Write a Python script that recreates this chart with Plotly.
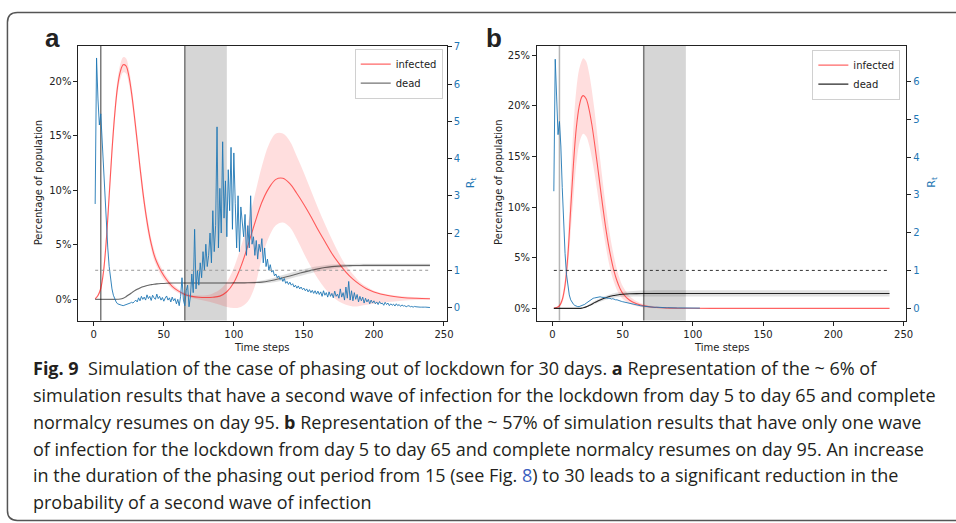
import plotly.graph_objects as go

W, H = 956, 523

# ---------------- data: panel a ----------------
A_DAYS = [1, 3, 5, 7, 9, 11, 13, 15, 17, 19, 21, 23, 25, 27, 29, 31, 33, 35, 37, 39, 41, 43, 45,
          48, 52, 56, 60,
          65, 70, 75, 80, 85, 90, 95, 100, 105, 110, 115, 120, 125, 130, 135, 140, 145, 150, 155,
          160, 165, 170, 175, 180, 185, 190, 195, 200,
          210, 220, 230, 240]
A_INF = [0.05, 0.35, 1.0, 2.6, 5.5, 9.5, 13.6, 17.0, 19.5, 20.9, 21.5, 21.4, 20.5, 18.9, 16.8, 14.5, 12.1, 9.9, 8.0, 6.4, 5.1, 4.1, 3.4,
         2.6, 1.8, 1.2, 0.8,
         0.45, 0.28, 0.2, 0.18, 0.2, 0.3, 0.7, 1.55, 3.0, 4.9, 7.0, 8.9, 10.2, 11.0, 11.1, 10.6, 9.7, 8.7, 7.6,
         6.4, 5.3, 4.2, 3.3, 2.5, 1.85, 1.35, 0.95, 0.68,
         0.35, 0.18, 0.1, 0.06]
A_INF_HI = [0.1, 0.5, 1.3, 3.1, 6.3, 10.5, 14.5, 17.8, 20.2, 21.6, 22.2, 22.1, 21.2, 19.6, 17.5, 15.2, 12.8, 10.6, 8.6, 7.0, 5.6, 4.6, 3.8,
            3.0, 2.1, 1.45, 1.0,
            0.6, 0.4, 0.35, 0.38, 0.55, 0.9, 1.6, 2.9, 4.8, 7.0, 9.6, 12.2, 14.2, 15.2, 15.2, 14.5, 13.1, 11.6, 10.0,
            8.4, 6.9, 5.5, 4.2, 3.1, 2.3, 1.6, 1.15, 0.8,
            0.45, 0.28, 0.2, 0.15]
A_INF_LO = [0.0, 0.22, 0.75, 2.1, 4.7, 8.5, 12.7, 16.2, 18.8, 20.2, 20.8, 20.7, 19.8, 18.2, 16.1, 13.8, 11.4, 9.2, 7.4, 5.8, 4.6, 3.6, 3.0,
            2.2, 1.5, 0.95, 0.6,
            0.3, 0.12, 0.0, -0.15, -0.3, -0.5, -0.7, -0.8, -0.7, -0.2, 1.2, 3.8, 5.7, 6.8, 7.05, 6.6, 5.5, 4.2, 3.0,
            1.9, 1.0, 0.3, -0.2, -0.5, -0.65, -0.6, -0.5, -0.4,
            -0.25, -0.12, -0.06, -0.03]
A_DEAD = [0.0, 0.0, 0.0, 0.0, 0.0, 0.0, 0.0, 0.0, 0.01, 0.03, 0.1, 0.25, 0.42, 0.6, 0.78, 0.93, 1.05, 1.15, 1.23, 1.3, 1.35, 1.39, 1.42,
          1.45, 1.48, 1.5, 1.5,
          1.5, 1.5, 1.5, 1.5, 1.5, 1.5, 1.5, 1.51, 1.51, 1.52, 1.54, 1.58, 1.68, 1.82, 1.98, 2.15, 2.33, 2.5, 2.66,
          2.8, 2.92, 3.0, 3.05, 3.08, 3.1, 3.11, 3.12, 3.12,
          3.12, 3.12, 3.12, 3.12]
A_DEAD_HI = [0.0, 0.0, 0.0, 0.0, 0.0, 0.0, 0.0, 0.01, 0.03, 0.06, 0.15, 0.32, 0.5, 0.68, 0.86, 1.0, 1.12, 1.21, 1.29, 1.35, 1.4, 1.44, 1.47,
             1.5, 1.53, 1.55, 1.55,
             1.55, 1.55, 1.55, 1.55, 1.55, 1.55, 1.56, 1.57, 1.58, 1.6, 1.64, 1.72, 1.86, 2.04, 2.23, 2.42, 2.6, 2.77, 2.92,
             3.04, 3.13, 3.19, 3.22, 3.24, 3.25, 3.26, 3.26, 3.26,
             3.26, 3.26, 3.26, 3.26]
A_DEAD_LO = [0.0, 0.0, 0.0, 0.0, 0.0, 0.0, 0.0, 0.0, 0.0, 0.0, 0.05, 0.18, 0.34, 0.52, 0.7, 0.86, 0.98, 1.09, 1.17, 1.24, 1.3, 1.34, 1.37,
             1.4, 1.43, 1.45, 1.45,
             1.45, 1.45, 1.45, 1.45, 1.45, 1.45, 1.45, 1.45, 1.45, 1.45, 1.45, 1.46, 1.5, 1.6, 1.74, 1.9, 2.07, 2.24, 2.4,
             2.55, 2.68, 2.8, 2.88, 2.94, 2.97, 2.98, 2.98, 2.98,
             2.98, 2.98, 2.98, 2.98]
RT_A = [2.78, 6.7, 5.6, 4.9, 5.2, 4.4, 3.6, 2.9, 2.2, 1.6,
        1.1, 0.75, 0.5, 0.33, 0.22, 0.15, 0.1, 0.08, 0.07, 0.06,
        0.05, 0.06, 0.08, 0.1, 0.09, 0.12, 0.14, 0.12, 0.16, 0.2,
        0.15, 0.26, 0.18, 0.3, 0.22, 0.28, 0.2, 0.34, 0.24, 0.3,
        0.19, 0.33, 0.26, 0.22, 0.36, 0.24, 0.3, 0.2, 0.27, 0.17,
        0.25, 0.31, 0.2, 0.26, 0.15, 0.28, 0.18, 0.24, 0.1, 0.22,
        0.05, 0.3, 0.8, 0.2, 0.05, 0.45, 0.6, 0.02, 0.3, 0.9,
        0.4, 2.1, 0.5, 1.0, 0.6, 1.2, 0.8, 1.5, 1.0, 1.7,
        1.1, 1.4, 2.0, 1.2, 2.6, 1.5, 2.2, 4.85, 1.6, 3.2,
        2.0, 4.45, 2.4, 3.4, 1.9, 3.7, 2.6, 4.3, 2.1, 4.15,
        2.8, 1.6, 3.0, 1.5, 2.7, 2.3, 1.9, 2.5, 1.4, 2.2,
        1.6, 3.0, 1.7, 1.9, 1.4, 1.8, 1.3, 1.7, 1.5, 1.85,
        1.2, 1.6, 1.1, 1.3, 1.0, 1.15, 0.95, 1.0, 0.85, 0.9,
        0.8, 0.85, 0.75, 0.8, 0.7, 0.78, 0.65, 0.7, 0.62, 0.68,
        0.6, 0.64, 0.55, 0.6, 0.52, 0.58, 0.5, 0.55, 0.48, 0.52,
        0.45, 0.5, 0.42, 0.48, 0.4, 0.46, 0.38, 0.45, 0.36, 0.44,
        0.35, 0.42, 0.3, 0.45, 0.33, 0.4, 0.28, 0.42, 0.3, 0.38,
        0.26, 0.44, 0.3, 0.36, 0.25, 0.5, 0.28, 0.4, 0.2, 0.55,
        0.25, 0.7, 0.2, 0.45, 0.18, 0.4, 0.22, 0.35, 0.15, 0.3,
        0.18, 0.28, 0.12, 0.25, 0.15, 0.22, 0.1, 0.2, 0.12, 0.18,
        0.1, 0.15, 0.08, 0.16, 0.1, 0.12, 0.06, 0.14, 0.08, 0.12,
        0.05, 0.1, 0.06, 0.09, 0.04, 0.1, 0.05, 0.08, 0.03, 0.07,
        0.04, 0.05, 0.02, 0.04, 0.05, 0.02, 0.03, 0.01, 0.03, 0.02,
        0.01, 0.02, 0.01, 0.01, 0.02, 0.01, 0.01, 0.0, 0.01, 0.0]

# ---------------- data: panel b ----------------
B_DAYS = [1, 3, 5, 7, 9, 11, 13, 15, 17, 19, 21,
          22, 24, 26, 28, 30, 32, 34, 36, 38, 40, 42, 44, 46, 48, 50,
          55, 60, 65, 70, 80, 90, 100,
          120, 140, 160, 180, 200, 220, 240]
B_INF = [0.02, 0.08, 0.25, 0.85, 2.3, 5.2, 9.8, 14.3, 17.8, 19.9, 20.9,
         21.0, 20.7, 19.7, 18.2, 16.3, 14.2, 12.0, 9.9, 7.9, 6.2, 4.8, 3.6, 2.7, 2.0, 1.5,
         0.8, 0.45, 0.25, 0.14, 0.05, 0.02, 0.01,
         0.0, 0.0, 0.0, 0.0, 0.0, 0.0, 0.0]
B_INF_HI = [0.05, 0.15, 0.4, 1.2, 3.0, 6.8, 12.6, 18.0, 21.6, 23.6, 24.5,
            24.7, 24.4, 23.3, 21.6, 19.5, 17.1, 14.7, 12.3, 10.1, 8.1, 6.4, 5.0, 3.8, 2.9, 2.2,
            1.2, 0.7, 0.4, 0.25, 0.1, 0.05, 0.03,
            0.02, 0.02, 0.02, 0.02, 0.02, 0.02, 0.02]
B_INF_LO = [0.0, 0.03, 0.15, 0.55, 1.7, 3.9, 7.5, 11.0, 14.2, 16.2, 17.1,
            17.25, 17.0, 16.2, 14.9, 13.3, 11.5, 9.6, 7.8, 6.1, 4.6, 3.4, 2.5, 1.8, 1.3, 0.95,
            0.45, 0.22, 0.1, 0.05, 0.01, 0.0, 0.0,
            0.0, 0.0, 0.0, 0.0, 0.0, 0.0, 0.0]
B_DEAD = [0.0, 0.0, 0.0, 0.0, 0.0, 0.0, 0.0, 0.0, 0.0, 0.0, 0.03,
          0.06, 0.15, 0.28, 0.42, 0.57, 0.7, 0.83, 0.95, 1.05, 1.14, 1.22, 1.28, 1.33, 1.37, 1.4,
          1.44, 1.46, 1.47, 1.47, 1.47, 1.47, 1.47,
          1.47, 1.47, 1.47, 1.47, 1.47, 1.47, 1.47]
B_DEAD_HI = [0.0, 0.0, 0.0, 0.0, 0.0, 0.0, 0.0, 0.0, 0.0, 0.01, 0.06,
             0.1, 0.22, 0.38, 0.55, 0.72, 0.87, 1.01, 1.14, 1.25, 1.35, 1.43, 1.5, 1.56, 1.6, 1.64,
             1.7, 1.74, 1.76, 1.77, 1.78, 1.78, 1.78,
             1.78, 1.78, 1.78, 1.78, 1.78, 1.78, 1.78]
B_DEAD_LO = [0.0, 0.0, 0.0, 0.0, 0.0, 0.0, 0.0, 0.0, 0.0, 0.0, 0.01,
             0.03, 0.09, 0.18, 0.3, 0.42, 0.54, 0.65, 0.76, 0.85, 0.93, 1.0, 1.05, 1.09, 1.12, 1.14,
             1.16, 1.17, 1.17, 1.17, 1.17, 1.17, 1.17,
             1.17, 1.17, 1.17, 1.17, 1.17, 1.17, 1.17]
RT_B = [3.1, 6.6, 5.6, 4.6, 4.95, 4.3, 3.2, 2.2, 1.45, 0.9,
        0.55, 0.35, 0.22, 0.14, 0.1, 0.07, 0.05, 0.04, 0.04, 0.05,
        0.06, 0.08, 0.1, 0.13, 0.16, 0.19, 0.22, 0.24, 0.26, 0.27,
        0.28, 0.29, 0.28, 0.3, 0.29, 0.28, 0.29, 0.27, 0.27, 0.26,
        0.26, 0.24, 0.25, 0.23, 0.22, 0.22, 0.2, 0.19, 0.18, 0.17,
        0.16, 0.15, 0.15, 0.13, 0.12, 0.11, 0.1, 0.09, 0.085, 0.08,
        0.07, 0.065, 0.06, 0.055, 0.05, 0.045, 0.04, 0.035, 0.03, 0.03,
        0.025, 0.03, 0.02, 0.025, 0.02, 0.015, 0.02, 0.01, 0.015, 0.01,
        0.01, 0.012, 0.008, 0.01, 0.006, 0.008, 0.005, 0.006, 0.004, 0.005,
        0.004, 0.003, 0.004, 0.002, 0.003, 0.002, 0.002, 0.001, 0.002, 0.001,
        0.001, 0.001, 0.0, 0.001, 0.0]

LOCKDOWN_START = 5
LOCKDOWN_END = 65
NORMAL_DAY = 95
RT_THRESHOLD = 1
SIM_DAYS = [1, 240]

X_TICKS = [0, 50, 100, 150, 200, 250]
A_PCT_TICKS = [0, 5, 10, 15, 20]
B_PCT_TICKS = [0, 5, 10, 15, 20, 25]
A_RT_TICKS = [0, 1, 2, 3, 4, 5, 6, 7]
B_RT_TICKS = [0, 1, 2, 3, 4, 5, 6]

for arr in (A_INF, A_INF_HI, A_INF_LO, A_DEAD, A_DEAD_HI, A_DEAD_LO):
    assert len(arr) == len(A_DAYS), len(arr)
for arr in (B_INF, B_INF_HI, B_INF_LO, B_DEAD, B_DEAD_HI, B_DEAD_LO):
    assert len(arr) == len(B_DAYS), len(arr)

CAPTION = [
    "<b>Fig. 9</b>  Simulation of the case of phasing out of lockdown for 30 days. <b>a</b> Representation of the ~ 6% of",
    "simulation results that have a second wave of infection for the lockdown from day 5 to day 65 and complete",
    "normalcy resumes on day 95. <b>b</b> Representation of the ~ 57% of simulation results that have only one wave",
    "of infection for the lockdown from day 5 to day 65 and complete normalcy resumes on day 95. An increase",
    "in the duration of the phasing out period from 15 (see Fig. <span style='color:#3b5fc0'>8</span>) to 30 leads to a significant reduction in the",
    "probability of a second wave of infection",
]

# ---------------- styling ----------------
FONT = "DejaVu Sans"
BLUE = "#1f77b4"
INF_LINE = "rgba(255,0,0,0.6)"
INF_BAND = "rgba(255,0,0,0.13)"
DEAD_BAND = "rgba(0,0,0,0.12)"

def px(x):
    return x / W

def py(y):
    return 1 - y / H

A_DOM_X = [px(79), px(450)]
B_DOM_X = [px(541), px(913)]
DOM_Y = [py(319), py(42)]

fig = go.Figure()


def add_panel(xa, ya, ya2, days, inf, hi, lo, dead, dhi, dlo, rt, dead_col, dot_col, legend):
    fig.add_trace(go.Scatter(x=days, y=hi, xaxis=xa, yaxis=ya, mode="lines", line=dict(width=0, shape="spline"),
                             showlegend=False, hoverinfo="skip"))
    fig.add_trace(go.Scatter(x=days, y=lo, xaxis=xa, yaxis=ya, mode="lines", line=dict(width=0, shape="spline"),
                             fill="tonexty", fillcolor=INF_BAND, showlegend=False, hoverinfo="skip"))
    fig.add_trace(go.Scatter(x=days, y=dhi, xaxis=xa, yaxis=ya, mode="lines", line=dict(width=0, shape="spline"),
                             showlegend=False, hoverinfo="skip"))
    fig.add_trace(go.Scatter(x=days, y=dlo, xaxis=xa, yaxis=ya, mode="lines", line=dict(width=0, shape="spline"),
                             fill="tonexty", fillcolor=DEAD_BAND, showlegend=False, hoverinfo="skip"))
    fig.add_trace(go.Scatter(x=days, y=inf, xaxis=xa, yaxis=ya, mode="lines", name="infected",
                             line=dict(color=INF_LINE, width=1.1, shape="spline"), legend=legend))
    fig.add_trace(go.Scatter(x=days, y=dead, xaxis=xa, yaxis=ya, mode="lines", name="dead",
                             line=dict(color=dead_col, width=1.1, shape="spline"), legend=legend))
    fig.add_trace(go.Scatter(x=list(range(1, len(rt) + 1)), y=rt, xaxis=xa, yaxis=ya2, mode="lines",
                             line=dict(color=BLUE, width=0.9), showlegend=False))
    fig.add_trace(go.Scatter(x=SIM_DAYS, y=[RT_THRESHOLD, RT_THRESHOLD], xaxis=xa, yaxis=ya2, mode="lines",
                             line=dict(color=dot_col, width=1, dash="dot"), showlegend=False))


add_panel("x", "y", "y2", A_DAYS, A_INF, A_INF_HI, A_INF_LO, A_DEAD, A_DEAD_HI, A_DEAD_LO, RT_A,
          "rgba(0,0,0,0.55)", "#999999", "legend")
add_panel("x2", "y3", "y4", B_DAYS, B_INF, B_INF_HI, B_INF_LO, B_DEAD, B_DEAD_HI, B_DEAD_LO, RT_B,
          "rgba(0,0,0,0.85)", "#333333", "legend2")

tickfont = dict(family=FONT, size=10, color="#222")
common_x = dict(range=[-10.95, 251.95], tickvals=X_TICKS, ticks="outside", ticklen=4, tickcolor="#222",
                showline=True, linecolor="#222", linewidth=1, mirror=True, showgrid=False, zeroline=False,
                tickfont=tickfont)
common_yl = dict(ticks="outside", ticklen=4, tickcolor="#222", showline=True, linecolor="#222",
                 linewidth=1, mirror=True, showgrid=False, zeroline=False, tickfont=tickfont)
common_yr = dict(side="right", ticks="outside", ticklen=4, tickcolor="#222", showline=True, linecolor="#222",
                 linewidth=1, showgrid=False, zeroline=False, tickfont=dict(family=FONT, size=10, color=BLUE))

shapes = []
for xr, yr in (("x", "y"), ("x2", "y3")):
    shapes.append(dict(type="rect", xref=xr, yref=yr + " domain", x0=LOCKDOWN_END, x1=NORMAL_DAY, y0=0, y1=1,
                       fillcolor="rgba(128,128,128,0.32)", line=dict(width=0), layer="below"))
    shapes.append(dict(type="line", xref=xr, yref=yr + " domain", x0=LOCKDOWN_END, x1=LOCKDOWN_END, y0=0, y1=1,
                       line=dict(color="rgba(90,90,90,0.8)", width=1.5), layer="below"))
shapes.append(dict(type="line", xref="x", yref="y domain", x0=LOCKDOWN_START, x1=LOCKDOWN_START, y0=0, y1=1,
                   line=dict(color="rgba(90,90,90,0.8)", width=1.5), layer="below"))
shapes.append(dict(type="line", xref="x2", yref="y3 domain", x0=LOCKDOWN_START, x1=LOCKDOWN_START, y0=0, y1=1,
                   line=dict(color="rgba(150,150,150,0.7)", width=1.5), layer="below"))

# rounded frame around figure + caption
L, T, B, R, r = 7.5, 8.5, 520.5, 975, 10
frame = (f"M {px(R)},{py(T)} L {px(L + r)},{py(T)} Q {px(L)},{py(T)} {px(L)},{py(T + r)} "
         f"L {px(L)},{py(B - r)} Q {px(L)},{py(B)} {px(L + r)},{py(B)} L {px(R)},{py(B)}")
shapes.append(dict(type="path", xref="paper", yref="paper", path=frame, line=dict(color="#555", width=1.5)))

ann = []
def text(x, y, s, size=10, color="#222", angle=0, family=FONT, xanchor="center"):
    ann.append(dict(x=px(x), y=py(y), xref="paper", yref="paper", text=s, showarrow=False, textangle=angle,
                    xanchor=xanchor, yanchor="middle", font=dict(family=family, size=size, color=color)))

text(53, 34, "<b>a</b>", size=26, family="Liberation Sans")
text(498, 34, "<b>b</b>", size=26, family="Liberation Sans")
text(39, 180, "Percentage of population", angle=-90)
text(502, 180, "Percentage of population", angle=-90)
text(474, 180, "R<sub>t</sub>", size=11, color=BLUE, angle=-90)
text(938, 180, "R<sub>t</sub>", size=11, color=BLUE, angle=-90)
text(264, 346, "Time steps")
text(727, 346, "Time steps")

CAP_Y = [367, 394, 421, 448, 475, 502]
for yy, line in zip(CAP_Y, CAPTION):
    text(31, yy, line, size=18, color="#231f20", family="Open Sans", xanchor="left")

legend_style = dict(bgcolor="rgba(255,255,255,0.85)", bordercolor="#d0d0d0", borderwidth=1,
                    font=dict(family=FONT, size=10, color="#222"), xanchor="right", yanchor="top",
                    itemwidth=30, tracegroupgap=0, traceorder="normal")

fig.update_layout(
    width=W, height=H, margin=dict(l=0, r=0, t=0, b=0),
    paper_bgcolor="white", plot_bgcolor="white",
    xaxis=dict(domain=A_DOM_X, anchor="y", **common_x),
    yaxis=dict(domain=DOM_Y, anchor="x", range=[-1.94, 23.25], tickvals=A_PCT_TICKS,
               ticktext=[f"{v}%" for v in A_PCT_TICKS], **common_yl),
    yaxis2=dict(overlaying="y", anchor="x", range=[-0.35, 7.03], tickvals=A_RT_TICKS, **common_yr),
    xaxis2=dict(domain=B_DOM_X, anchor="y3", **common_x),
    yaxis3=dict(domain=DOM_Y, anchor="x2", range=[-1.2, 25.93], tickvals=B_PCT_TICKS,
                ticktext=[f"{v}%" for v in B_PCT_TICKS], **common_yl),
    yaxis4=dict(overlaying="y3", anchor="x2", range=[-0.33, 6.96], tickvals=B_RT_TICKS, **common_yr),
    legend=dict(x=px(446), y=py(45), **legend_style),
    legend2=dict(x=px(907), y=py(46), **legend_style),
    shapes=shapes, annotations=ann, showlegend=True,
)

fig.write_html("out.html", config={"displayModeBar": False},
               post_script="document.body.style.margin='0px';document.body.style.overflow='hidden';")
